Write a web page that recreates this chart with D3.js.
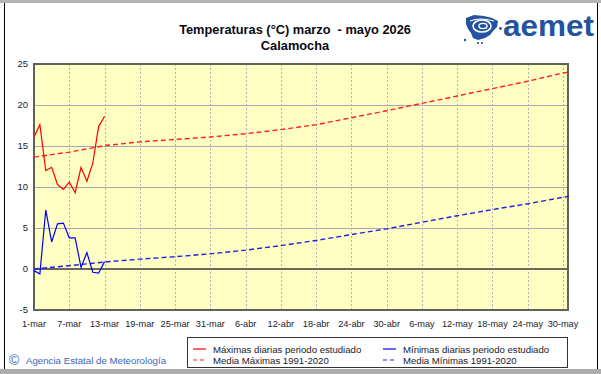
<!DOCTYPE html>
<html>
<head>
<meta charset="utf-8">
<script src="https://cdn.jsdelivr.net/npm/d3@7"></script>
<style>
  body { margin: 0; background: #fff; }
  svg { display: block; font-family: "Liberation Sans", Arial, sans-serif; }
</style>
</head>
<body>
<div id="chart"></div>
<script>
// daily values (day 0 = 1 march)
var maxDaily = [16.1, 17.6, 12.0, 12.4, 10.3, 9.7, 10.6, 9.3, 12.4, 10.7, 12.9, 17.4, 18.6];
var minDaily = [-0.2, -0.6, 7.2, 3.3, 5.5, 5.6, 3.8, 3.8, 0.2, 2.0, -0.4, -0.5, 0.9];

// 1991-2020 normals, sampled every 6 days
var climDays = [0, 6, 12, 18, 24, 30, 36, 42, 48, 54, 60, 66, 72, 78, 84, 90, 91];
var climMax = [13.65, 14.25, 15.05, 15.5, 15.8, 16.1, 16.5, 17.0, 17.6, 18.45, 19.3, 20.2, 21.1, 22.0, 22.9, 23.9, 24.0];
var climMin = [0.0, 0.4, 0.85, 1.2, 1.5, 1.85, 2.3, 2.85, 3.48, 4.2, 4.9, 5.7, 6.5, 7.25, 7.95, 8.75, 8.85];

var tickLabels = ["1-mar", "7-mar", "13-mar", "19-mar", "25-mar", "31-mar", "6-abr", "12-abr",
                  "18-abr", "24-abr", "30-abr", "6-may", "12-may", "18-may", "24-may", "30-may"];
var yTicks = [-5, 0, 5, 10, 15, 20, 25];

var legendItems = [
    {label: "Máximas diarias periodo estudiado", color: "#ff0000", dash: null},
    {label: "Media Máximas 1991-2020", color: "#ff2020", dash: "4,3"},
    {label: "Mínimas diarias periodo estudiado", color: "#0000ff", dash: null},
    {label: "Media Mínimas 1991-2020", color: "#2020e0", dash: "4,3"}
];

var W = 601, H = 374;
var pLeft = 34, pRight = 568, pTop = 64, pBottom = 310;

var svg = d3.select("#chart").append("svg")
    .attr("width", W)
    .attr("height", H);

// frame
svg.append("rect").attr("x", 0).attr("y", 0).attr("width", W).attr("height", 3).attr("fill", "#b4b4b4");
svg.append("rect").attr("x", 0).attr("y", 369).attr("width", W).attr("height", 5).attr("fill", "#acacac");
svg.append("line").attr("x1", 4.5).attr("x2", 4.5).attr("y1", 3).attr("y2", 369).attr("stroke", "#000");
svg.append("line").attr("x1", 597.5).attr("x2", 597.5).attr("y1", 3).attr("y2", 369).attr("stroke", "#000");

var x = d3.scaleLinear().domain([0, 91]).range([pLeft, pRight + 0.9]);
var y = d3.scaleLinear().domain([-5, 25]).range([pBottom, pTop]);

// plot background
svg.append("rect")
    .attr("x", pLeft).attr("y", pTop)
    .attr("width", pRight - pLeft).attr("height", pBottom - pTop)
    .attr("fill", "#ffffc4");

// horizontal grid
svg.append("g")
    .selectAll("line")
    .data(yTicks.filter(function(d) { return d > -5 && d < 25 && d != 0; }))
    .enter().append("line")
    .attr("x1", pLeft).attr("x2", pRight)
    .attr("y1", function(d) { return Math.round(y(d)) + 0.5; })
    .attr("y2", function(d) { return Math.round(y(d)) + 0.5; })
    .attr("stroke", "#a8a8b4");

// vertical grid (dotted)
svg.append("g")
    .selectAll("line")
    .data(tickLabels.slice(1))
    .enter().append("line")
    .attr("x1", function(d, i) { return Math.round(x((i + 1) * 6)) + 0.5; })
    .attr("x2", function(d, i) { return Math.round(x((i + 1) * 6)) + 0.5; })
    .attr("y1", pTop).attr("y2", pBottom)
    .attr("stroke", "#b4b4b4")
    .attr("stroke-dasharray", "2,2");

// zero line
svg.append("line")
    .attr("x1", pLeft).attr("x2", pRight)
    .attr("y1", y(0)).attr("y2", y(0))
    .attr("stroke", "#6a6a5c").attr("stroke-width", 2);

// plot border
svg.append("rect")
    .attr("x", pLeft).attr("y", pTop)
    .attr("width", pRight - pLeft).attr("height", pBottom - pTop)
    .attr("fill", "none")
    .attr("stroke", "#5f6355").attr("stroke-width", 2);

// y tick labels
svg.append("g")
    .selectAll("text")
    .data(yTicks)
    .enter().append("text")
    .attr("x", 28)
    .attr("y", function(d) { return y(d); })
    .attr("dy", "0.35em")
    .attr("text-anchor", "end")
    .attr("font-size", "9.5px")
    .attr("fill", "#1a1a2a")
    .text(function(d) { return d; });

// x tick labels
svg.append("g")
    .selectAll("text")
    .data(tickLabels)
    .enter().append("text")
    .attr("x", function(d, i) { return x(i * 6); })
    .attr("y", 327)
    .attr("text-anchor", "middle")
    .attr("font-size", "9.2px")
    .attr("fill", "#1a1a2a")
    .text(function(d) { return d; });

// lines
var line = d3.line()
    .x(function(d) { return x(d[0]); })
    .y(function(d) { return y(d[1]); });

function draw(points, color, dash, width) {
    svg.append("path")
        .attr("d", line(points))
        .attr("fill", "none")
        .attr("stroke", color)
        .attr("stroke-width", width)
        .attr("stroke-dasharray", dash);
}

draw(climMax.map(function(v, i) { return [climDays[i], v]; }), "#ff2020", "5,3", 1.4);
draw(climMin.map(function(v, i) { return [climDays[i], v]; }), "#2020e0", "5,3", 1.4);
draw(maxDaily.map(function(v, i) { return [i, v]; }), "#ff0000", null, 1.2);
draw(minDaily.map(function(v, i) { return [i, v]; }), "#0000ff", null, 1.2);

// title
svg.append("text")
    .attr("x", 295).attr("y", 34)
    .attr("text-anchor", "middle")
    .attr("font-size", "12.8px").attr("font-weight", "bold")
    .attr("fill", "#0a0a14")
    .attr("xml:space", "preserve")
    .text("Temperaturas (°C) marzo  - mayo 2026");
svg.append("text")
    .attr("x", 295).attr("y", 50)
    .attr("text-anchor", "middle")
    .attr("font-size", "12.8px").attr("font-weight", "bold")
    .attr("fill", "#0a0a14")
    .text("Calamocha");

// logo
var logo = svg.append("g").attr("fill", "#2352a0");
logo.append("path")
    .attr("d", "M466,18 L474,15 L484,16 L492,18 L498,21 L497,27 L493,31 L490,35 L485,38 L478,40 L473,38 L471,33 L468,29 L466,24 Z");
logo.append("ellipse").attr("cx", 482).attr("cy", 26).attr("rx", 9).attr("ry", 6)
    .attr("fill", "none").attr("stroke", "#fff").attr("stroke-width", 1.6);
logo.append("ellipse").attr("cx", 483).attr("cy", 26).attr("rx", 4).attr("ry", 2.6)
    .attr("fill", "none").attr("stroke", "#fff").attr("stroke-width", 1.4);
logo.append("path").attr("d", "M470,21 Q480,17 494,21").attr("fill", "none").attr("stroke", "#fff").attr("stroke-width", 1.2);
logo.append("circle").attr("cx", 465).attr("cy", 40).attr("r", 1.2);
logo.append("circle").attr("cx", 478).attr("cy", 43).attr("r", 1.1);
logo.append("circle").attr("cx", 482).attr("cy", 43).attr("r", 1.1);
logo.append("circle").attr("cx", 500.5).attr("cy", 28.5).attr("r", 1.4);
logo.append("text")
    .attr("x", 503).attr("y", 36)
    .attr("font-size", "30px").attr("font-weight", "bold")
    .attr("textLength", 91).attr("lengthAdjust", "spacingAndGlyphs")
    .text("aemet");

// legend
var lg = svg.append("g");
lg.append("rect")
    .attr("x", 187.5).attr("y", 337.5)
    .attr("width", 380).attr("height", 30)
    .attr("fill", "#fff").attr("stroke", "#333");

var item = lg.selectAll("g.item")
    .data(legendItems)
    .enter().append("g")
    .attr("class", "item")
    .attr("transform", function(d, i) {
        return "translate(" + (i < 2 ? 193 : 383) + "," + (i % 2 == 0 ? 349 : 360) + ")";
    });
item.append("line")
    .attr("x1", 0).attr("x2", 13)
    .attr("stroke", function(d) { return d.color; })
    .attr("stroke-width", 1.2)
    .attr("stroke-dasharray", function(d) { return d.dash; });
item.append("text")
    .attr("x", 20).attr("y", 3.5)
    .attr("font-size", "9.6px")
    .attr("fill", "#1a1a2a")
    .text(function(d) { return d.label; });

// credits
svg.append("text")
    .attr("x", 9).attr("y", 365)
    .attr("font-size", "14px")
    .attr("fill", "#3a66bb")
    .text("©");
svg.append("text")
    .attr("x", 26).attr("y", 364)
    .attr("font-size", "9.7px")
    .attr("fill", "#3a66bb")
    .text("Agencia Estatal de Meteorología");
</script>
</body>
</html>
